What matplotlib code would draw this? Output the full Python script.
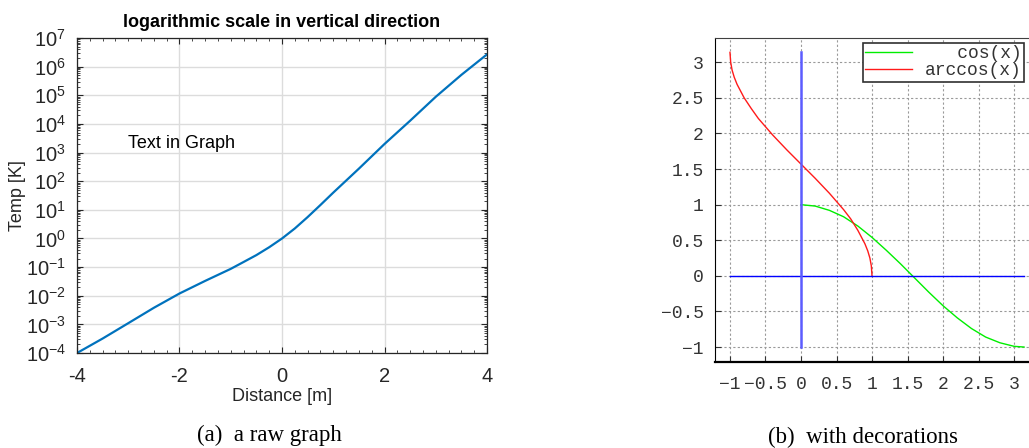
import matplotlib
matplotlib.use('Agg')
import matplotlib.pyplot as plt
from matplotlib.ticker import MultipleLocator, LogLocator, FuncFormatter, NullFormatter

# left panel: temperature profile
distance = [-4, -3.5, -3, -2.5, -2, -1.5, -1, -0.75, -0.5, -0.25, 0, 0.25,
            0.5, 0.75, 1, 1.5, 2, 2.5, 3, 3.5, 4]
temp = [1e-4, 3.2e-4, 1.1e-3, 3.8e-3, 1.2e-2, 3.3e-2, 8.7e-2, 0.151, 0.263,
        0.495, 1.0, 2.24, 5.6, 14.8, 40, 275, 2.0e3, 1.3e4, 8.9e4, 5.2e5, 2.7e6]
y_decades = [1e-4, 1e-3, 1e-2, 1e-1, 1e0, 1e1, 1e2, 1e3, 1e4, 1e5, 1e6, 1e7]

# right panel: cos(x) and arccos(x) curves
cos_x = [0, 0.2, 0.4, 0.6, 0.8, 1.0, 1.2, 1.4, 1.6, 1.8, 2.0, 2.2, 2.4, 2.6,
         2.8, 3.0, 3.14]
cos_y = [1.0, 0.98, 0.92, 0.83, 0.70, 0.54, 0.36, 0.17, -0.03, -0.23, -0.42,
         -0.59, -0.74, -0.86, -0.94, -0.99, -1.0]
acos_x = [-1, -0.99, -0.97, -0.94, -0.9, -0.8, -0.7, -0.6, -0.4, -0.2, 0,
          0.2, 0.4, 0.6, 0.7, 0.8, 0.9, 0.94, 0.97, 0.99, 1]
acos_y = [3.14, 3.00, 2.89, 2.79, 2.69, 2.50, 2.35, 2.21, 1.98, 1.77, 1.57,
          1.37, 1.16, 0.93, 0.80, 0.64, 0.45, 0.35, 0.25, 0.14, 0.0]
axis_h_x = [-1, 3.14]
axis_h_y = [0, 0]
axis_v_x = [0, 0]
axis_v_y = [-1, 3.14]
right_ticks_x = [-1, -0.5, 0, 0.5, 1, 1.5, 2, 2.5, 3]
right_ticks_y = [-1, -0.5, 0, 0.5, 1, 1.5, 2, 2.5, 3]

plt.rcParams['axes.unicode_minus'] = False
plt.rcParams['mathtext.default'] = 'regular'
plt.rcParams['font.family'] = ['Liberation Sans', 'DejaVu Sans']

fig = plt.figure(figsize=(10.29, 4.48), dpi=100)

# ---- (a) raw graph ----
dark = '#262626'
ax = fig.add_axes([0.0748, 0.212, 0.3985, 0.703])
ax.plot(distance, temp, color='#0072BD', lw=1.6)
ax.set_yscale('log')
ax.set_xlim(-4, 4)
ax.set_ylim(1e-4, 1e7)
ax.set_yticks(y_decades)
ax.yaxis.set_minor_locator(LogLocator(base=10, subs=range(2, 10), numticks=50))
ax.yaxis.set_minor_formatter(NullFormatter())
ax.xaxis.set_major_locator(MultipleLocator(2))
ax.xaxis.set_minor_locator(MultipleLocator(0.25))
ax.grid(True, which='major', color='#dcdcdc', lw=1.0)
ax.set_axisbelow(True)
for s in ax.spines.values():
    s.set_color(dark)
    s.set_linewidth(0.9)
ax.tick_params(which='both', direction='in', top=True, right=True,
               colors=dark, labelsize=14.5)
ax.tick_params(which='major', length=4)
ax.tick_params(axis='x', which='major', pad=10)
ax.tick_params(axis='y', which='major', pad=8)
ax.tick_params(which='minor', length=2)
ax.set_title('logarithmic scale in vertical direction', fontsize=13,
             fontweight='bold', pad=8)
ax.set_xlabel('Distance [m]', fontsize=13, color=dark)
ax.set_ylabel('Temp [K]', fontsize=13, color=dark)
ax.xaxis.set_label_coords(0.5, -0.11)
ax.yaxis.set_label_coords(-0.125, 0.5)
ax.text(-3, 2e3, 'Text in Graph', fontsize=13, va='center', color='black')

# ---- (b) with decorations ----
mono = 'Liberation Mono'
bx = fig.add_axes([0.6949, 0.192, 0.3051, 0.723])
bx.plot(cos_x, cos_y, color='#00ee00', lw=1.0, label='   cos(x)')
bx.plot(acos_x, acos_y, color='#ff1a1a', lw=1.0, label='arccos(x)')
bx.plot(axis_h_x, axis_h_y, color='#0000ff', lw=1.0)
bx.plot(axis_v_x, axis_v_y, color='#5c5cff', lw=1.8)
bx.set_xlim(-1.21, 3.21)
bx.set_ylim(-1.21, 3.34)
bx.set_xticks(right_ticks_x)
bx.set_yticks(right_ticks_y)
minus = FuncFormatter(lambda v, p: ('%g' % v).replace('-', '\u2212'))
bx.xaxis.set_major_formatter(minus)
bx.yaxis.set_major_formatter(minus)
bx.grid(True, color='#9a9a9a', lw=0.8, ls=(0, (2, 2)))
bx.set_axisbelow(True)
bx.spines['right'].set_visible(False)
bx.spines['top'].set_color('#404040')
bx.spines['top'].set_linewidth(0.8)
bx.spines['left'].set_color('black')
bx.spines['left'].set_linewidth(0.8)
bx.spines['bottom'].set_color('black')
bx.spines['bottom'].set_linewidth(1.6)
bx.tick_params(direction='in', length=4, colors='#333333', labelsize=13,
               right=False, top=False)
bx.tick_params(axis='x', pad=10)
bx.tick_params(axis='y', pad=8)
for lab in bx.get_xticklabels() + bx.get_yticklabels():
    lab.set_family(mono)
leg = bx.legend(loc='upper right', bbox_to_anchor=(1.0, 1.0), borderaxespad=0.25,
                prop={'family': mono, 'size': 13}, fancybox=False,
                framealpha=1, edgecolor='#303030', handlelength=2.6,
                handletextpad=0.7, labelspacing=0.0, borderpad=0.15)
leg.get_frame().set_linewidth(1.2)
for t in leg.get_texts():
    t.set_color('#333333')

# ---- captions ----
fig.text(0.262, 1 - 435 / 448, '(a)  a raw graph', family='Liberation Serif',
         fontsize=16.5, ha='center', va='center')
fig.text(0.839, 1 - 437 / 448, '(b)  with decorations', family='Liberation Serif',
         fontsize=16.5, ha='center', va='center')

fig.savefig('out.png', dpi=100)
